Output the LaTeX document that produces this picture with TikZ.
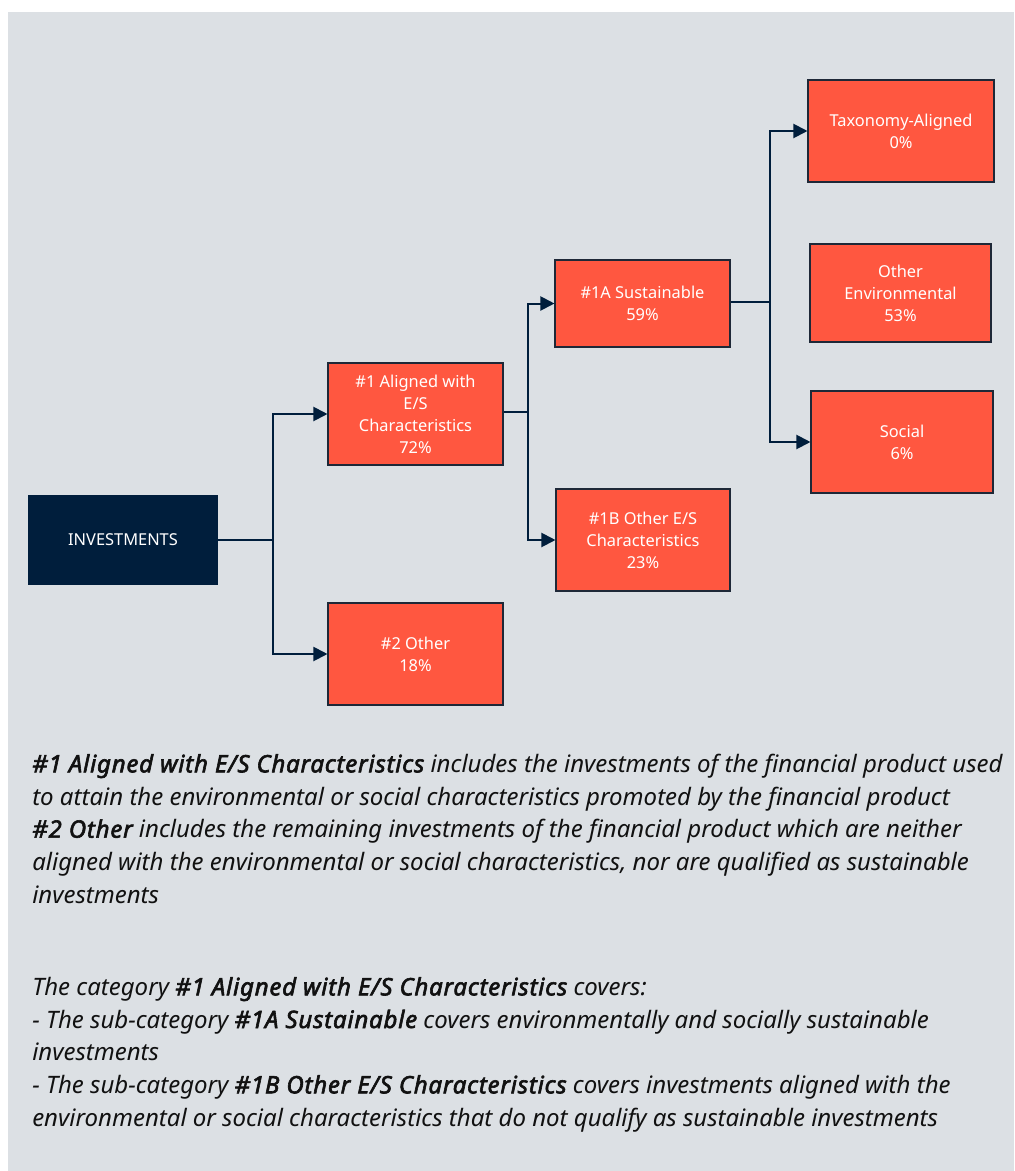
\documentclass[tikz,border=0pt]{standalone}
\usepackage{fontspec}
\setmainfont{Noto Sans}[BoldItalicFont={Noto Sans Italic}, BoldItalicFeatures={FakeBold=2.5, LetterSpace=3.3}]
\usetikzlibrary{arrows.meta}
\definecolor{panel}{RGB}{220,224,228}
\definecolor{navy}{RGB}{0,30,60}
\definecolor{coral}{RGB}{255,87,64}
\definecolor{boxedge}{RGB}{30,40,55}
\definecolor{txt}{RGB}{17,17,17}
\tikzset{
  catbox/.style={draw=boxedge, line width=0.8pt, fill=coral, text=white, align=center,
    inner sep=0pt, font=\fontsize{12.3pt}{16.5pt}\selectfont},
  rootbox/.style={fill=navy, text=white, align=center, inner sep=0pt,
    font=\fontsize{12.3pt}{16.5pt}\selectfont},
  link/.style={draw=navy, line width=1.5pt},
  arr/.style={link, -{Triangle[length=10.5pt,width=10.5pt]}},
  note/.style={anchor=base west, align=left, inner sep=0pt, text=txt,
    font=\fontsize{18pt}{24.5pt}\selectfont\itshape}
}
\begin{document}
\begin{tikzpicture}[x=0.75pt,y=-0.75pt]
\useasboundingbox (0,0) rectangle (1014,1171);
\fill[white] (0,0) rectangle (1014,1171);
\fill[panel] (8,12) rectangle (1014,1171);

\node[rootbox, minimum width=142.5pt, minimum height=67.5pt] (inv) at (123,540) {INVESTMENTS};
\node[catbox, minimum width=131.25pt, minimum height=76.5pt] (a1) at (415.5,414) {\#1 Aligned with\\E/S\\Characteristics\\72\%};
\node[catbox, minimum width=131.25pt, minimum height=76.5pt] (o2) at (415.5,654) {\#2 Other\\18\%};
\node[catbox, minimum width=131.25pt, minimum height=65.25pt] (s1a) at (642.5,303.5) {\#1A Sustainable\\59\%};
\node[catbox, minimum width=130.5pt, minimum height=76.5pt] (s1b) at (643,540) {\#1B Other E/S\\Characteristics\\23\%};
\node[catbox, minimum width=139.5pt, minimum height=76.5pt] (tax) at (901,131) {Taxonomy-Aligned\\0\%};
\node[catbox, minimum width=135.75pt, minimum height=73.5pt] (env) at (900.5,293) {Other\\Environmental\\53\%};
\node[catbox, minimum width=136.5pt, minimum height=76.5pt] (soc) at (902,442) {Social\\6\%};

\coordinate (j1) at (273,540);
\coordinate (j2) at (528,412);
\coordinate (j3) at (770,302);
\draw[link] (inv.east) -- (j1);
\draw[arr] (j1) |- (a1.west);
\draw[arr] (j1) |- (o2.west);
\draw[link] (a1.east |- j2) -- (j2);
\draw[arr] (j2) |- (s1a.west);
\draw[arr] (j2) |- (s1b.west);
\draw[link] (s1a.east |- j3) -- (j3);
\draw[arr] (j3) |- (tax.west);
\draw[arr] (j3) |- (soc.west);

\node[note] (n1) at (32,903) {{\bfseries\#1 Aligned with E/S Characteristics} includes the investments of the financial product used\\
to attain the environmental or social characteristics promoted by the financial product\\
{\bfseries\#2 Other} includes the remaining investments of the financial product which are neither\\
aligned with the environmental or social characteristics, nor are qualified as sustainable\\
investments};
\node[note] (n2) at (32,1126) {The category {\bfseries\#1 Aligned with E/S Characteristics} covers:\\
- The sub-category {\bfseries\#1A Sustainable} covers environmentally and socially sustainable\\
investments\\
- The sub-category {\bfseries\#1B Other E/S Characteristics} covers investments aligned with the\\
environmental or social characteristics that do not qualify as sustainable investments};
\end{tikzpicture}
\end{document}
